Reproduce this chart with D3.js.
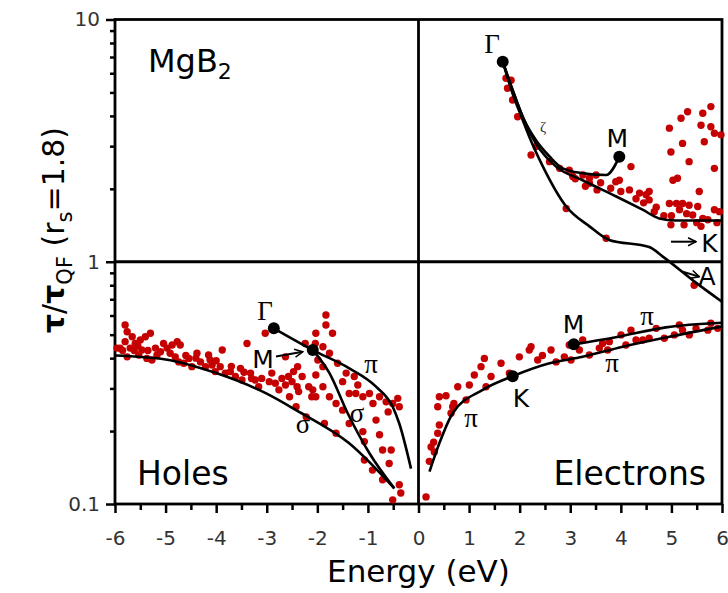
<!DOCTYPE html>
<html>
<head>
<meta charset="utf-8">
<script src="https://cdn.jsdelivr.net/npm/d3@7"></script>
<style>
  body { margin: 0; background: #fff; }
  text { font-family: "DejaVu Sans", Verdana, sans-serif; }
</style>
</head>
<body>
<div id="chart"></div>
<script>
// tau/tau_QF for MgB2, holes (E<0) and electrons (E>0)

// red scatter: [energy eV, tau ratio]
let holePoints = [
  [-5.96,0.44],[-5.80,0.548],[-5.76,0.514],[-5.80,0.468],[-5.76,0.405],[-5.66,0.49],[-5.60,0.46],
  [-5.50,0.475],[-5.47,0.432],[-5.53,0.412],[-5.40,0.49],[-5.30,0.507],[-5.37,0.399],[-5.27,0.393],
  [-5.17,0.412],[-5.10,0.425],[-5.04,0.46],[-4.97,0.44],[-4.87,0.453],[-4.91,0.419],[-4.81,0.405],
  [-4.77,0.468],[-4.71,0.453],[-4.74,0.386],[-4.64,0.381],[-4.54,0.399],[-4.48,0.369],[-4.38,0.419],
  [-4.31,0.386],[-4.21,0.369],[-4.15,0.412],[-4.12,0.393],[-4.08,0.375],[-4.02,0.352],[-3.88,0.432],
  [-3.92,0.369],[-3.82,0.347],[-3.72,0.352],[-3.62,0.336],[-3.52,0.363],[-3.49,0.325],[-3.39,0.46],
  [-3.32,0.347],[-3.23,0.325],[-3.16,0.305],[-3.03,0.507],[-2.90,0.347],[-2.83,0.315],[-2.76,0.296],
  [-2.63,0.31],[-2.57,0.336],[-2.47,0.352],[-2.40,0.305],[-2.30,0.336],[-2.37,0.291],[-2.24,0.46],
  [-2.17,0.305],[-2.11,0.277],[-1.83,0.603],[-1.83,0.548],[-2.03,0.507],[-1.70,0.507],[-1.89,0.446],
  [-1.99,0.393],[-1.89,0.369],[-2.03,0.341],[-1.76,0.419],[-1.60,0.381],[-1.43,0.347],[-1.27,0.336],
  [-1.50,0.32],[-1.24,0.286],[-1.10,0.277],[-0.97,0.286],[-0.77,0.277],[-0.64,0.264],[-0.51,0.26],
  [-0.41,0.273],[-0.38,0.252],[-1.37,0.286],[-1.50,0.244],[-1.89,0.305],[-2.09,0.296],[-2.03,0.277],
  [-1.76,0.277],[-1.63,0.26],[-1.37,0.215],[-1.10,0.199],[-1.07,0.181],[-0.84,0.222],[-0.77,0.193],
  [-0.71,0.167],[-0.54,0.167],[-0.58,0.147],[-1.07,0.152],[-0.91,0.138],[-0.71,0.126],[-0.38,0.12],
  [-0.35,0.111],[-0.51,0.104],[-1.63,0.196],[-1.86,0.215],[-2.42,0.252],[-2.55,0.277],[-2.22,0.229],
  [-2.63,0.405],[-2.39,0.369],[-2.04,0.46],
  [-5.90,0.44],[-5.85,0.43],[-5.70,0.44],[-5.62,0.43],[-5.55,0.45],[-5.35,0.43],[-5.20,0.44],
  [-4.60,0.41],[-4.40,0.40],[-4.00,0.39],[-3.70,0.37],[-3.45,0.35],[-3.30,0.33],[-3.10,0.33],
  [-2.95,0.32],[-2.70,0.33],[-2.50,0.32],[-1.20,0.31],[-0.90,0.26],[-0.60,0.24]
];
let electronPoints = [
  [0.149,0.107],[0.214,0.150],[0.248,0.172],[0.313,0.164],[0.38,0.196],[0.412,0.212],[0.38,0.252],
  [0.412,0.277],[0.544,0.28],[0.643,0.237],[0.676,0.252],[0.776,0.305],[0.94,0.269],[1.005,0.31],
  [1.104,0.341],[1.236,0.369],[1.302,0.399],[1.335,0.305],[1.434,0.336],[1.632,0.381],[1.796,0.347],
  [1.994,0.405],[2.225,0.446],[2.19,0.432],[2.357,0.393],[2.62,0.432],[2.72,0.386],[2.883,0.405],
  [2.98,0.453],[3.015,0.393],[3.18,0.432],[3.246,0.475],[3.378,0.412],[3.575,0.44],[3.64,0.46],
  [3.74,0.432],[3.773,0.468],[4.004,0.499],[4.10,0.453],[4.20,0.522],[4.30,0.475],[4.433,0.475],
  [4.56,0.483],[4.70,0.531],[4.86,0.483],[5.058,0.499],[5.157,0.548],[5.22,0.522],[5.354,0.499],
  [5.487,0.531],[5.72,0.522],[5.78,0.557],[5.915,0.531],[5.45,0.80],
  [1.73,5.72],[1.83,5.62],[1.76,5.20],[1.86,4.65],[1.96,3.97],[2.225,2.76],[2.325,2.99],[2.59,2.59],
  [2.79,2.43],[2.98,2.39],[3.05,2.25],[3.25,2.28],[3.38,2.21],[3.51,2.28],[3.38,2.11],[3.53,1.98],
  [3.80,2.01],[3.90,2.14],[3.97,2.17],[4.20,2.47],[4.17,1.98],[4.37,1.92],[4.50,1.89],[4.56,1.95],
  [4.56,1.80],[4.66,1.61],[2.92,1.66],[3.71,1.25],[4.96,3.56],[4.99,2.84],[5.19,3.91],[5.22,3.08],
  [5.32,4.16],[5.35,2.59],[5.585,3.66],[5.62,4.10],[5.78,4.37],[5.78,3.61],[5.85,3.39],[5.98,3.34],
  [5.65,3.13],[5.85,2.43],[5.03,2.17],[5.12,2.21],[5.55,1.95],[4.96,1.74],[5.10,1.74],[5.22,1.74],
  [5.35,1.71],[5.52,1.69],[5.16,1.64],[5.30,1.58],[5.42,1.56],[5.62,1.51],[5.85,1.64],[5.95,1.61],
  [4.99,1.42],[5.25,1.42],[5.585,1.40],[5.72,1.49],
  [3.10,2.20],[3.30,2.05],[3.60,2.12],[4.00,1.95],[4.30,1.82],[4.45,1.75],[4.70,1.68],[4.85,1.55],
  [5.00,1.55],[5.50,1.45],[5.90,1.45],[0.30,0.18],[0.70,0.26],[2.45,0.41]
];

// black band curves
let holePi = [[-2.86,0.531],[-2.09,0.432],[-1.368,0.363],[-0.84,0.305],[-0.51,0.252],[-0.38,0.215],[-0.148,0.140]];
let holeSigmaM = [[-2.09,0.432],[-1.76,0.347],[-1.40,0.237],[-0.97,0.162],[-0.478,0.116]];
let holeSigma = [[-6,0.41],[-5,0.395],[-4,0.347],[-3.01,0.286],[-2.42,0.244],[-1.37,0.178],[-0.478,0.116]];
let elecPiLow = [[0.217,0.136],[0.412,0.178],[0.676,0.237],[1.27,0.296],[1.862,0.337],[2.59,0.381],
  [3.245,0.405],[4.04,0.446],[4.96,0.49],[6,0.54]];
let elecPiUp = [[3.07,0.456],[3.9,0.488],[4.89,0.536],[6,0.56]];
let gammaM = [[1.665,6.70],[1.86,5.12],[2.06,3.97],[2.32,3.18],[2.59,2.72],[2.85,2.43],[3.245,2.32],
  [3.71,2.28],[3.97,2.71]];
let gammaK = [[1.665,6.70],[1.86,5.12],[2.06,3.97],[2.32,3.08],[2.72,2.47],[3.245,2.17],[3.91,1.86],
  [4.43,1.64],[4.76,1.51],[5.08,1.48],[6,1.48]];
let gammaA = [[1.665,6.70],[1.86,4.95],[2.06,3.85],[2.19,3.28],[2.46,2.47],[2.92,1.69],[3.38,1.40],
  [3.77,1.23],[4.56,1.15],[4.83,1.05],[5.45,0.83],[6,0.684]];

// symmetry points (black dots)
let symPoints = [[-2.86,0.531],[-2.09,0.432],[1.665,6.70],[3.97,2.71],[3.07,0.456],[1.862,0.337]];

// labels: [text, energy, tau]
let greekLabels = [
  ["Γ",-3.035,0.575],["Γ",1.453,7.27],["π",-0.939,0.347],["σ",-2.283,0.196],["σ",-1.216,0.219],
  ["π",1.038,0.208],["π",3.825,0.352],["π",4.517,0.548]
];
let pointLabels = [["M",-3.074,0.363],["M",3.93,2.98],["M",3.064,0.508],["K",2.027,0.252],
  ["K",5.753,1.10],["A",5.704,0.80]];
let arrows = [[[-2.817,0.406],[-2.289,0.425]],[[4.992,1.21],[5.487,1.21]],[[5.223,0.91],[5.551,0.868]]];

let xMajor = d3.range(-6, 7, 1);
let xMinor = d3.range(-5.5, 6, 1);
let yMajor = [0.1, 1, 10];
let yMinor = [0.2,0.3,0.4,0.5,0.6,0.7,0.8,0.9,2,3,4,5,6,7,8,9];

let width = 728, height = 593;
let margin = {top: 19.5, right: 6, bottom: 89, left: 115};

let svg = d3.select("#chart").append("svg")
  .attr("width", width)
  .attr("height", height);

let x = d3.scaleLinear().domain([-6, 6]).range([margin.left, width - margin.right]);
let y = d3.scaleLog().domain([0.1, 10]).range([height - margin.bottom, margin.top]);

// axes
let bottom = height - margin.bottom;
svg.append("g")
  .attr("transform", "translate(0," + bottom + ")")
  .call(d3.axisBottom(x).tickValues(xMinor).tickSize(6).tickFormat(""))
  .call(g => g.select(".domain").remove())
  .selectAll("line").attr("stroke-width", 2.5);
svg.append("g")
  .attr("transform", "translate(0," + bottom + ")")
  .call(d3.axisBottom(x).tickValues(xMajor).tickSize(9).tickPadding(18).tickFormat(d3.format("d")))
  .call(g => g.select(".domain").remove())
  .call(g => g.selectAll("line").attr("stroke-width", 2.5))
  .call(g => g.selectAll("text").attr("font-size", 20).attr("fill", "#333")
    .attr("font-family", "DejaVu Sans").text(d => d < 0 ? "-" + (-d) : d));

svg.append("g")
  .attr("transform", "translate(" + margin.left + ",0)")
  .call(d3.axisLeft(y).tickValues(yMinor).tickSize(5).tickFormat(""))
  .call(g => g.select(".domain").remove())
  .selectAll("line").attr("stroke-width", 2.5);
svg.append("g")
  .attr("transform", "translate(" + margin.left + ",0)")
  .call(d3.axisLeft(y).tickValues(yMajor).tickSize(9).tickPadding(6).tickFormat(d => d))
  .call(g => g.select(".domain").remove())
  .call(g => g.selectAll("line").attr("stroke-width", 2.5))
  .call(g => g.selectAll("text").attr("font-size", 20).attr("fill", "#333")
    .attr("font-family", "DejaVu Sans"));

// frame and quadrant lines
svg.append("rect")
  .attr("x", x(-6)).attr("y", y(10))
  .attr("width", x(6) - x(-6)).attr("height", y(0.1) - y(10))
  .attr("fill", "none").attr("stroke", "#000").attr("stroke-width", 2.8);
svg.append("line")
  .attr("x1", x(0)).attr("x2", x(0)).attr("y1", y(10)).attr("y2", y(0.1))
  .attr("stroke", "#000").attr("stroke-width", 2.8);
svg.append("line")
  .attr("x1", x(-6)).attr("x2", x(6)).attr("y1", y(1)).attr("y2", y(1))
  .attr("stroke", "#000").attr("stroke-width", 2.8);

// scatter
svg.append("g").selectAll("circle")
  .data(holePoints.concat(electronPoints))
  .join("circle")
  .attr("cx", d => x(d[0]))
  .attr("cy", d => y(d[1]))
  .attr("r", 3.7)
  .attr("fill", "#c40000");

// band lines
let line = d3.line()
  .x(d => x(d[0]))
  .y(d => y(d[1]))
  .curve(d3.curveMonotoneX);

svg.append("g").selectAll("path")
  .data([holePi, holeSigmaM, holeSigma, elecPiLow, elecPiUp, gammaM, gammaK, gammaA])
  .join("path")
  .attr("d", line)
  .attr("fill", "none")
  .attr("stroke", "#000")
  .attr("stroke-width", 2.6);

svg.append("g").selectAll("circle")
  .data(symPoints)
  .join("circle")
  .attr("cx", d => x(d[0]))
  .attr("cy", d => y(d[1]))
  .attr("r", 6)
  .attr("fill", "#000");

// arrows
svg.append("defs").append("marker")
  .attr("id", "head")
  .attr("viewBox", "0 0 10 10")
  .attr("refX", 9).attr("refY", 5)
  .attr("markerWidth", 5).attr("markerHeight", 5)
  .attr("orient", "auto")
  .append("path")
  .attr("d", "M1,1 L9,5 L1,9")
  .attr("fill", "none")
  .attr("stroke", "#000")
  .attr("stroke-width", 1.6);

svg.append("g").selectAll("line")
  .data(arrows)
  .join("line")
  .attr("x1", d => x(d[0][0])).attr("y1", d => y(d[0][1]))
  .attr("x2", d => x(d[1][0])).attr("y2", d => y(d[1][1]))
  .attr("stroke", "#000")
  .attr("stroke-width", 2)
  .attr("marker-end", "url(#head)");

// labels
svg.append("g").selectAll("text")
  .data(greekLabels)
  .join("text")
  .attr("x", d => x(d[1]))
  .attr("y", d => y(d[2]))
  .attr("text-anchor", "middle")
  .style("font-family", "'Liberation Serif', serif")
  .attr("font-size", 27)
  .text(d => d[0]);

svg.append("text")
  .attr("x", x(2.461)).attr("y", y(3.44))
  .attr("text-anchor", "middle")
  .style("font-family", "'Liberation Serif', serif")
  .attr("font-size", 15)
  .attr("fill", "#333")
  .text("ζ");

svg.append("g").selectAll("text")
  .data(pointLabels)
  .join("text")
  .attr("x", d => x(d[1]))
  .attr("y", d => y(d[2]))
  .attr("text-anchor", "middle")
  .attr("font-size", 25)
  .text(d => d[0]);

svg.append("text")
  .attr("x", x(-5.565)).attr("y", y(0.12))
  .attr("font-size", 33)
  .text("Holes");
svg.append("text")
  .attr("x", x(5.684)).attr("y", y(0.12))
  .attr("text-anchor", "end")
  .attr("font-size", 33)
  .text("Electrons");

let mg = svg.append("text")
  .attr("x", x(-5.348)).attr("y", y(6.07))
  .attr("font-size", 32);
mg.append("tspan").text("MgB");
mg.append("tspan").attr("font-size", 22).attr("dy", 7).text("2");

// axis titles
svg.append("text")
  .attr("x", x(0)).attr("y", 582)
  .attr("text-anchor", "middle")
  .attr("font-size", 31)
  .text("Energy (eV)");

let yt = svg.append("text")
  .attr("transform", "translate(64,230) rotate(-90)")
  .attr("text-anchor", "middle")
  .attr("font-size", 30);
yt.append("tspan").attr("font-weight", "bold").text("τ");
yt.append("tspan").text("/");
yt.append("tspan").attr("font-weight", "bold").text("τ");
yt.append("tspan").attr("font-size", 21).attr("dy", 8).text("QF");
yt.append("tspan").attr("dy", -8).text(" (r");
yt.append("tspan").attr("font-size", 21).attr("dy", 8).text("s");
yt.append("tspan").attr("dy", -8).text("=1.8)");
</script>
</body>
</html>
